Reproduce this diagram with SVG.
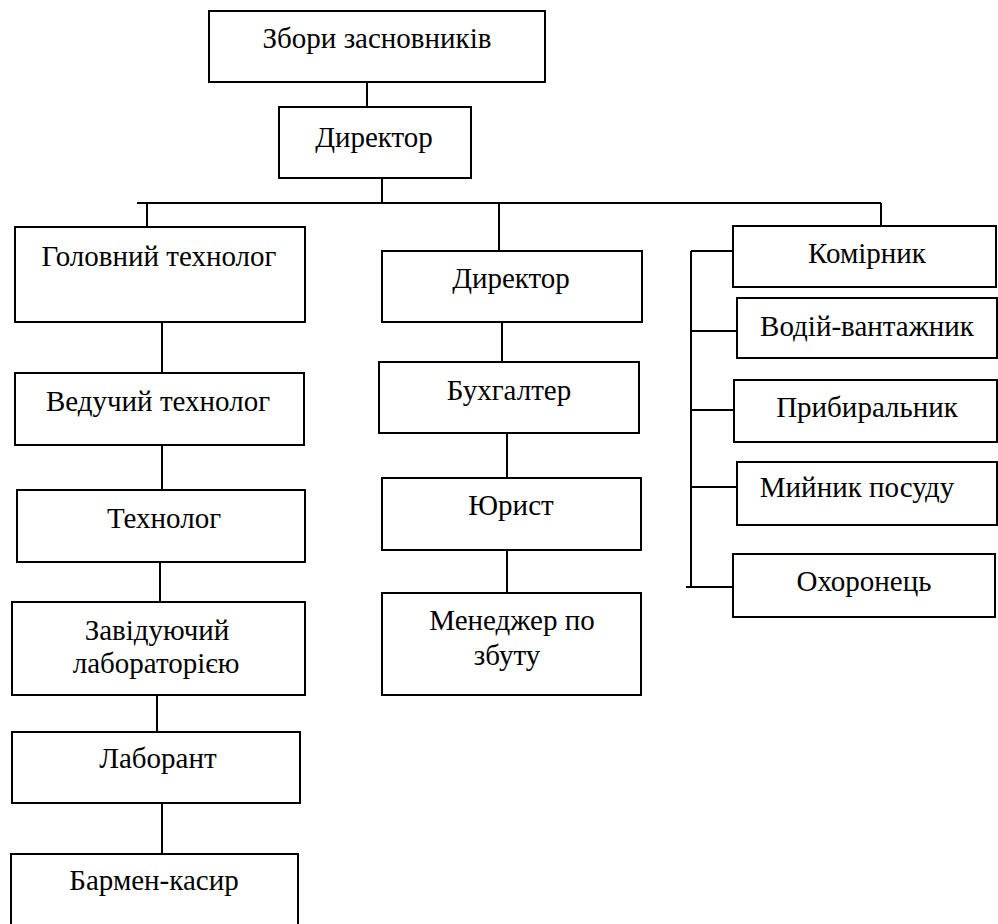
<svg xmlns="http://www.w3.org/2000/svg" width="998" height="924" viewBox="0 0 998 924">
<style>
rect.b{fill:#fff;stroke:#000;stroke-width:2}
text{font-family:"Liberation Serif","Times New Roman",serif;font-size:29px;fill:#000;text-anchor:middle}
#connectors line{stroke:#000;stroke-width:2;fill:none}
</style>
<rect width="998" height="924" fill="#fff"/>
<g id="connectors">
<line x1="367" y1="82" x2="367" y2="107"/>
<line x1="382" y1="178" x2="382" y2="203"/>
<line x1="137" y1="203" x2="881" y2="203"/>
<line x1="147" y1="203" x2="147" y2="227"/>
<line x1="499" y1="203" x2="499" y2="251"/>
<line x1="881" y1="203" x2="881" y2="226"/>
<line x1="162" y1="322" x2="162" y2="373"/>
<line x1="162" y1="445" x2="162" y2="490"/>
<line x1="160" y1="562" x2="160" y2="602"/>
<line x1="157" y1="695" x2="157" y2="732"/>
<line x1="162" y1="803" x2="162" y2="854"/>
<line x1="502" y1="322" x2="502" y2="362"/>
<line x1="507" y1="433" x2="507" y2="478"/>
<line x1="507" y1="550" x2="507" y2="593"/>
<line x1="691" y1="251" x2="691" y2="587"/>
<line x1="691" y1="251" x2="733" y2="251"/>
<line x1="691" y1="331" x2="737" y2="331"/>
<line x1="691" y1="410" x2="734" y2="410"/>
<line x1="691" y1="487" x2="737" y2="487"/>
<line x1="686" y1="587" x2="733" y2="587"/>
</g>
<g id="n-zbory"><rect class="b" x="209" y="11" width="336" height="71"/><text x="377" y="48">Збори засновників</text></g>
<g id="n-dyrektor-top"><rect class="b" x="279" y="107" width="192" height="71"/><text x="374" y="147">Директор</text></g>
<g id="n-holovnyi"><rect class="b" x="15" y="227" width="290" height="95"/><text x="159" y="266">Головний технолог</text></g>
<g id="n-veduchyi"><rect class="b" x="15" y="373" width="289" height="72"/><text x="158" y="411">Ведучий технолог</text></g>
<g id="n-tekhnoloh"><rect class="b" x="17" y="490" width="288" height="72"/><text x="164" y="528">Технолог</text></g>
<g id="n-zaviduiuchyi"><rect class="b" x="12" y="602" width="293" height="93"/><text x="157" y="640">Завідуючий</text><text x="156" y="673">лабораторією</text></g>
<g id="n-laborant"><rect class="b" x="12" y="732" width="288" height="71"/><text x="158" y="768">Лаборант</text></g>
<g id="n-barmen"><rect class="b" x="11" y="854" width="287" height="74"/><text x="154" y="890">Бармен-касир</text></g>
<g id="n-dyrektor"><rect class="b" x="382" y="251" width="260" height="71"/><text x="511" y="288">Директор</text></g>
<g id="n-bukhhalter"><rect class="b" x="379" y="362" width="260" height="71"/><text x="509" y="400">Бухгалтер</text></g>
<g id="n-yuryst"><rect class="b" x="382" y="478" width="259" height="72"/><text x="511" y="515">Юрист</text></g>
<g id="n-menedzher"><rect class="b" x="382" y="593" width="259" height="102"/><text x="512" y="630">Менеджер по</text><text x="507" y="665">збуту</text></g>
<g id="n-komirnyk"><rect class="b" x="733" y="226" width="263" height="61"/><text x="867" y="263">Комірник</text></g>
<g id="n-vodii"><rect class="b" x="737" y="298" width="260" height="60"/><text x="867" y="336">Водій-вантажник</text></g>
<g id="n-prybyralnyk"><rect class="b" x="734" y="380" width="263" height="62"/><text x="867" y="417">Прибиральник</text></g>
<g id="n-myinyk"><rect class="b" x="737" y="462" width="260" height="63"/><text x="857" y="497">Мийник посуду</text></g>
<g id="n-okhoronets"><rect class="b" x="733" y="554" width="262" height="63"/><text x="864" y="591">Охоронець</text></g>
</svg>
